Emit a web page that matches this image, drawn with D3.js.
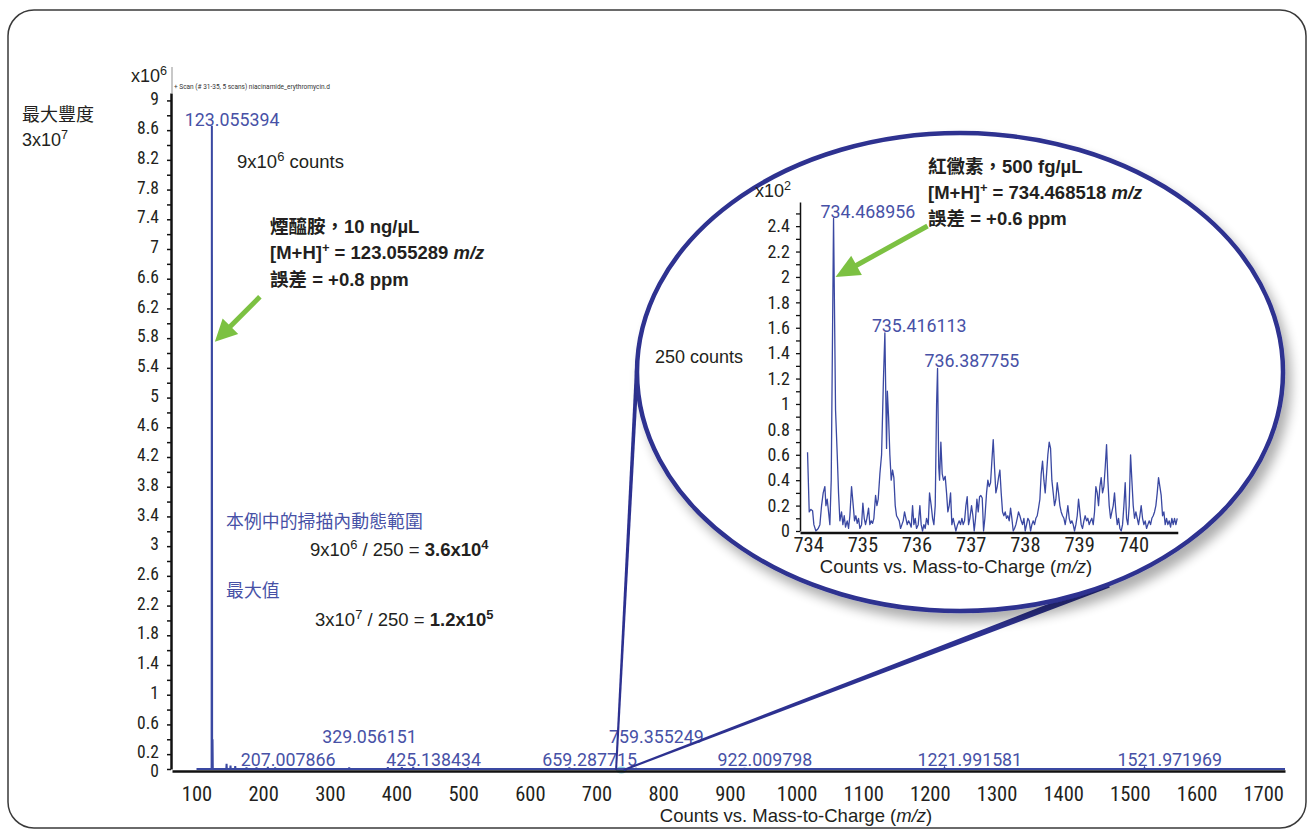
<!DOCTYPE html>
<html>
<head>
<meta charset="utf-8">
<script src="https://cdn.jsdelivr.net/npm/d3@7"></script>
<style>
  html, body { margin: 0; padding: 0; background: #fff; }
  svg { display: block; }
  .narrow { font-family: "Liberation Sans Narrow", "Roboto Condensed", Roboto, "Noto Sans CJK TC", sans-serif; fill: #231f20; }
  .sans { font-family: "Liberation Sans", Arial, "Noto Sans CJK TC", sans-serif; fill: #231f20; }
  .peak-label { font-family: Roboto, "Liberation Sans", sans-serif; fill: #4751a6; }
</style>
</head>
<body>
<svg id="chart" width="1309" height="829"></svg>
<script>
// ---------- Full-scan spectrum (counts x10^6) ----------
const mainPeakMz     = [123.055394, 124.058, 145.1, 151.0, 158.1, 175.0, 190.0, 207.007866, 218.0, 329.056151, 387.0, 408.0, 425.138434, 507.0, 659.287715, 759.355249, 922.009798, 1221.991581, 1521.971969];
const mainPeakCounts = [8.66,       0.40,    0.07,  0.045, 0.04,  0.02,  0.02,  0.03,       0.02,  0.02,       0.025, 0.025, 0.03,       0.02,  0.02,       0.015,      0.015,      0.01,        0.01];
const mainLabeledMz  = [123.055394, 207.007866, 329.056151, 425.138434, 659.287715, 759.355249, 922.009798, 1221.991581, 1521.971969];
const mainXTicks     = [100, 200, 300, 400, 500, 600, 700, 800, 900, 1000, 1100, 1200, 1300, 1400, 1500, 1600, 1700];
const mainYTickLabels = [9, 8.6, 8.2, 7.8, 7.4, 7, 6.6, 6.2, 5.8, 5.4, 5, 4.6, 4.2, 3.8, 3.4, 3, 2.6, 2.2, 1.8, 1.4, 1, 0.6, 0.2, 0];

// ---------- Zoomed region 734-740 m/z (counts x10^2) ----------
const insetPeakMz     = [734.468956, 735.416113, 736.387755];
const insetPeakCounts = [2.46, 1.56, 1.28];
const insetXTicks     = [734, 735, 736, 737, 738, 739, 740];
const insetYTickLabels = [0, 0.2, 0.4, 0.6, 0.8, 1, 1.2, 1.4, 1.6, 1.8, 2, 2.2, 2.4];
const insetNoise = [
  [733.989,0.62],[734.020,0.15],[734.051,0.17],[734.082,0.16],[734.106,0.05],[734.143,0.00],[734.186,0.02],[734.217,0.05],
  [734.248,0.20],[734.278,0.30],[734.309,0.35],[734.328,0.20],[734.352,0.25],[734.377,0.15],[734.401,0.05],[734.426,0.40],
  [734.506,0.95],[734.537,0.60],[734.561,0.30],[734.586,0.08],[734.617,0.15],[734.641,0.05],[734.666,0.12],[734.690,0.03],
  [734.721,0.08],[734.746,0.02],[734.770,0.12],[734.801,0.35],[734.832,0.20],[734.856,0.08],[734.881,0.12],[734.906,0.06],
  [734.930,0.10],[734.955,0.02],[734.986,0.05],[735.010,0.22],[735.035,0.10],[735.059,0.05],[735.084,0.10],[735.115,0.18],
  [735.139,0.05],[735.164,0.08],[735.189,0.06],[735.213,0.10],[735.244,0.28],[735.269,0.20],[735.293,0.25],[735.324,0.45],
  [735.355,0.60],[735.390,1.20],[735.435,1.00],[735.447,0.65],[735.462,1.10],[735.484,0.90],[735.508,0.60],[735.533,0.40],
  [735.558,0.48],[735.582,0.42],[735.607,0.20],[735.631,0.12],[735.656,0.10],[735.681,0.08],[735.705,0.02],[735.730,0.05],
  [735.754,0.08],[735.779,0.15],[735.804,0.10],[735.828,0.05],[735.853,0.08],[735.877,0.06],[735.902,0.03],[735.927,0.20],
  [735.951,0.05],[735.976,0.10],[736.000,0.02],[736.031,0.05],[736.062,0.20],[736.086,0.05],[736.111,0.00],[736.136,0.05],
  [736.160,0.02],[736.185,0.10],[736.216,0.05],[736.240,0.30],[736.271,0.20],[736.296,0.10],[736.320,0.05],[736.345,0.20],
  [736.370,1.00],[736.410,0.50],[736.425,0.40],[736.449,0.70],[736.474,0.45],[736.498,0.40],[736.529,0.43],[736.554,0.30],
  [736.578,0.15],[736.603,0.20],[736.628,0.30],[736.652,0.05],[736.677,0.10],[736.701,0.05],[736.726,0.00],[736.757,0.05],
  [736.788,0.08],[736.812,0.05],[736.837,0.10],[736.861,0.05],[736.886,0.08],[736.911,0.20],[736.935,0.27],[736.960,0.05],
  [736.984,0.10],[737.015,0.20],[737.040,0.12],[737.064,0.00],[737.089,0.10],[737.114,0.25],[737.138,0.15],[737.163,0.27],
  [737.187,0.28],[737.212,0.26],[737.237,0.00],[737.261,0.10],[737.292,0.30],[737.316,0.40],[737.341,0.35],[737.366,0.38],
  [737.390,0.55],[737.415,0.72],[737.439,0.50],[737.464,0.30],[737.489,0.35],[737.513,0.42],[737.538,0.48],[737.562,0.30],
  [737.587,0.15],[737.612,0.12],[737.636,0.15],[737.661,0.10],[737.685,0.12],[737.710,0.08],[737.735,0.18],[737.759,0.10],
  [737.784,0.00],[737.808,0.02],[737.833,0.05],[737.858,0.10],[737.882,0.15],[737.907,0.12],[737.931,0.08],[737.956,0.05],
  [737.981,0.10],[738.005,0.00],[738.030,0.05],[738.054,0.10],[738.079,0.08],[738.104,0.00],[738.128,0.05],[738.153,0.08],
  [738.177,0.05],[738.202,0.10],[738.227,0.12],[738.251,0.18],[738.276,0.25],[738.300,0.45],[738.325,0.55],[738.350,0.40],
  [738.374,0.30],[738.399,0.45],[738.423,0.60],[738.448,0.70],[738.473,0.65],[738.497,0.40],[738.522,0.30],[738.546,0.20],
  [738.571,0.25],[738.596,0.38],[738.620,0.30],[738.645,0.20],[738.669,0.15],[738.694,0.12],[738.719,0.10],[738.743,0.05],
  [738.768,0.12],[738.792,0.20],[738.817,0.10],[738.842,0.06],[738.866,0.08],[738.891,0.05],[738.915,0.00],[738.940,0.05],
  [738.965,0.12],[738.989,0.25],[739.014,0.15],[739.038,0.05],[739.063,0.02],[739.088,0.08],[739.112,0.12],[739.137,0.08],
  [739.161,0.10],[739.186,0.05],[739.211,0.08],[739.235,0.10],[739.260,0.05],[739.284,0.15],[739.309,0.35],[739.334,0.30],
  [739.358,0.20],[739.383,0.35],[739.407,0.42],[739.432,0.30],[739.457,0.35],[739.481,0.50],[739.506,0.68],[739.530,0.40],
  [739.555,0.20],[739.580,0.10],[739.604,0.15],[739.629,0.20],[739.653,0.30],[739.678,0.15],[739.703,0.05],[739.727,0.10],
  [739.752,0.02],[739.776,0.00],[739.801,0.05],[739.826,0.20],[739.850,0.38],[739.875,0.10],[739.899,0.05],[739.924,0.20],
  [739.949,0.60],[739.973,0.40],[739.998,0.20],[740.022,0.10],[740.047,0.15],[740.072,0.10],[740.096,0.05],[740.121,0.12],
  [740.145,0.20],[740.170,0.10],[740.195,0.05],[740.219,0.08],[740.244,0.02],[740.268,0.05],[740.293,0.08],[740.318,0.05],
  [740.342,0.10],[740.367,0.12],[740.391,0.15],[740.416,0.20],[740.441,0.30],[740.465,0.42],[740.490,0.35],[740.514,0.28],
  [740.539,0.12],[740.564,0.15],[740.588,0.05],[740.613,0.10],[740.637,0.05],[740.662,0.08],[740.687,0.03],[740.711,0.10],
  [740.736,0.05],[740.760,0.10],[740.785,0.05],[740.810,0.10]
];

// ---------- layout ----------
const NAVY = "#2d3190", TRACE = "#3a48a2", BLUE_TXT = "#4751a6", GREEN = "#7cc142";
// peak-label rows on the full scan: 0 = lower row, 1 = upper row, "top" = at the apex
const mainLabelRows = ["top", 0, 1, 0, 0, 1, 0, 0, 0];
const LABEL_DX = -27;

const svg = d3.select("#chart");
const defs = svg.append("defs");
const sh = defs.append("filter").attr("id", "lensShadow").attr("x", "-10%").attr("y", "-10%").attr("width", "125%").attr("height", "130%");
sh.append("feGaussianBlur").attr("in", "SourceAlpha").attr("stdDeviation", 6);
sh.append("feOffset").attr("dx", 6).attr("dy", 9).attr("result", "off");
sh.append("feComponentTransfer").append("feFuncA").attr("type", "linear").attr("slope", 0.32);
const mg = sh.append("feMerge"); mg.append("feMergeNode"); mg.append("feMergeNode").attr("in", "SourceGraphic");

// rich text helper: parts are strings or {t, sup, b, i}
function rich(parent, x, y, size, parts, cls) {
  const t = parent.append("text").attr("x", x).attr("y", y).attr("class", cls || "sans").style("font-size", size + "px");
  let shift = 0;
  parts.forEach(p => {
    const o = typeof p === "string" ? {t: p} : p;
    const s = t.append("tspan").text(o.t);
    let d = 0;
    if (o.sup) { d = -size * 0.4 - shift; shift = -size * 0.4; s.style("font-size", (size * 0.7) + "px"); }
    else if (shift) { d = -shift; shift = 0; }
    if (d) s.attr("dy", d);
    if (o.b) s.style("font-weight", "bold");
    if (o.i) s.style("font-style", "italic");
  });
  return t;
}

function arrow(g, tail, tip, w, headL, headW, color) {
  const dx = tip[0] - tail[0], dy = tip[1] - tail[1], len = Math.hypot(dx, dy);
  const ux = dx / len, uy = dy / len, nx = -uy, ny = ux;
  const base = [tip[0] - ux * headL, tip[1] - uy * headL];
  g.append("line").attr("x1", tail[0]).attr("y1", tail[1]).attr("x2", base[0] + ux * 2).attr("y2", base[1] + uy * 2)
    .attr("stroke", color).attr("stroke-width", w);
  g.append("path").attr("fill", color)
    .attr("d", `M${tip[0]},${tip[1]}L${base[0] + nx * headW / 2},${base[1] + ny * headW / 2}L${base[0] - nx * headW / 2},${base[1] - ny * headW / 2}Z`);
}

// frame
svg.append("rect").attr("x", 8).attr("y", 10).attr("width", 1298).attr("height", 818).attr("rx", 26)
  .attr("fill", "none").attr("stroke", "#3a3a3a").attr("stroke-width", 1.5);

// ---------- full-scan chart ----------
const xMain = d3.scaleLinear().domain([63.25, 1732.75]).range([172, 1285]);
const yMain = d3.scaleLinear().domain([0, 9.1]).range([769, 93]);

svg.append("line").attr("x1", 172).attr("x2", 172).attr("y1", 67).attr("y2", 93).attr("stroke", "#c8c8c8").attr("stroke-width", 2);

const yMinor = d3.range(0, 46).map(i => +(i * 0.2).toFixed(1));
const yAx = svg.append("g").attr("transform", "translate(171,0)")
  .call(d3.axisLeft(yMain).tickValues(yMinor).tickSize(4).tickSizeOuter(0).tickPadding(8)
    .tickFormat(v => mainYTickLabels.some(l => Math.abs(l - v) < 1e-6) ? d3.format("")(v) : ""));
yAx.select(".domain").attr("stroke", "#111").attr("stroke-width", 2.5);
yAx.selectAll(".tick line").attr("stroke", "#111").attr("stroke-width", 1.5);
yAx.selectAll(".tick text").attr("class", "narrow").style("font-size", "17.5px").attr("fill", "#231f20")
  .attr("y", d => d === 0 ? 2 : -2);

// zoom marker on the m/z axis
svg.append("ellipse").attr("cx", xMain(737.3)).attr("cy", 770).attr("rx", 5.5).attr("ry", 3.5).attr("fill", "#8fd0dd");

const xAx = svg.append("g").attr("transform", "translate(0,771)")
  .call(d3.axisBottom(xMain).tickValues(mainXTicks).tickSize(0).tickSizeOuter(0).tickPadding(15).tickFormat(d3.format("d")));
xAx.select(".domain").attr("stroke", "#111").attr("stroke-width", 2.5);
xAx.selectAll(".tick text").attr("class", "narrow").style("font-size", "20.5px").attr("fill", "#231f20");

// stick spectrum
const mainPts = [[100, 0]];
mainPeakMz.map((m, i) => [m, mainPeakCounts[i]]).sort((a, b) => a[0] - b[0]).forEach(([m, c]) => {
  mainPts.push([m - 0.4, 0], [m, c], [m + 0.4, 0]);
});
mainPts.push([1732.75, 0]);
svg.append("path").datum(mainPts).attr("fill", "none").attr("stroke", TRACE).attr("stroke-width", 2)
  .attr("d", d3.line().x(d => xMain(d[0])).y(d => yMain(d[1])));

// peak labels
mainLabeledMz.forEach((m, i) => {
  const row = mainLabelRows[i];
  const c = mainPeakCounts[mainPeakMz.indexOf(m)];
  const y = row === "top" ? yMain(c) : yMain(0) - (row === 1 ? 26 : 3);
  svg.append("text").attr("class", "peak-label").style("font-size", "17.8px")
    .attr("x", xMain(m) + LABEL_DX).attr("y", y).text(m.toFixed(6));
});

// axis titles and annotations
rich(svg, 131, 82, 18, ["x10", {t: "6", sup: true}]);
svg.append("text").attr("x", 174).attr("y", 89).style("font-family", "Roboto, sans-serif").style("font-size", "6.5px")
  .attr("fill", "#333").text("+ Scan (# 31-35, 5 scans) niacinamide_erythromycin.d");
rich(svg, 22, 121, 18, ["最大豐度"]);
rich(svg, 22, 146, 18, ["3x10", {t: "7", sup: true}]);
rich(svg, 237, 168, 18.5, ["9x10", {t: "6", sup: true}, " counts"]);

const ann = svg.append("g").style("font-weight", "bold");
rich(ann, 270, 233, 18.5, ["煙醯胺，10 ng/µL"]);
rich(ann, 270, 259, 18.5, ["[M+H]", {t: "+", sup: true}, " = 123.055289 ", {t: "m/z", i: true}]);
rich(ann, 270, 286, 18.5, ["誤差 = +0.8 ppm"]);

rich(svg, 226, 528, 17.9, ["本例中的掃描內動態範圍"]).style("fill", BLUE_TXT);
rich(svg, 310, 556, 18.5, ["9x10", {t: "6", sup: true}, " / 250 = ", {t: "3.6x10", b: true}, {t: "4", sup: true, b: true}]);
rich(svg, 226, 597, 17.9, ["最大值"]).style("fill", BLUE_TXT);
rich(svg, 315, 626, 18.5, ["3x10", {t: "7", sup: true}, " / 250 = ", {t: "1.2x10", b: true}, {t: "5", sup: true, b: true}]);

rich(svg, 796, 822, 18.5, ["Counts vs. Mass-to-Charge (", {t: "m/z", i: true}, ")"]).attr("text-anchor", "middle");

const mainTip = [xMain(mainPeakMz[0]) + 3, yMain(5.75)];
arrow(svg, [mainTip[0] + 45, mainTip[1] - 45], mainTip, 5, 22, 22, GREEN);

// ---------- magnifier lens ----------
const L = {cx: 960, cy: 372, rx: 323, ry: 239};
const xIn = d3.scaleLinear().domain([733.85, 740.82]).range([800, 800 + 6.97 * 54.2]);
const yIn = d3.scaleLinear().domain([0, 2.59]).range([531, 202]);

function tangents(P) {
  const px = (P[0] - L.cx) / L.rx, py = (P[1] - L.cy) / L.ry;
  const d = Math.hypot(px, py), phi = Math.atan2(py, px), a = Math.acos(1 / d);
  return [phi + a, phi - a].map(th => [L.cx + L.rx * Math.cos(th), L.cy + L.ry * Math.sin(th)]);
}
function wedge(a, b, w0, w1) {
  const dx = b[0] - a[0], dy = b[1] - a[1], len = Math.hypot(dx, dy), nx = -dy / len, ny = dx / len;
  svg.append("path").attr("fill", NAVY).attr("d",
    `M${a[0] + nx * w0},${a[1] + ny * w0}L${b[0] + nx * w1},${b[1] + ny * w1}L${b[0] - nx * w1},${b[1] - ny * w1}L${a[0] - nx * w0},${a[1] - ny * w0}Z`);
}
const PL = [xMain(xIn.domain()[0]) - 3, 770], PR = [xMain(xIn.domain()[1]), 770];
wedge(PL, tangents(PL)[0], 1, 2);
wedge(PR, tangents(PR)[1], 1, 3.5);

svg.append("ellipse").attr("cx", L.cx).attr("cy", L.cy).attr("rx", L.rx).attr("ry", L.ry)
  .attr("fill", "#fff").attr("stroke", NAVY).attr("stroke-width", 4.5).attr("filter", "url(#lensShadow)");

// inset axes
const yInMinor = d3.range(0, 26).map(i => +(i * 0.1).toFixed(1));
const yAxIn = svg.append("g").attr("transform", "translate(800,0)")
  .call(d3.axisLeft(yIn).tickValues(yInMinor).tickSize(4).tickSizeOuter(0).tickPadding(6)
    .tickFormat(v => insetYTickLabels.some(l => Math.abs(l - v) < 1e-6) ? d3.format("")(v) : ""));
yAxIn.select(".domain").attr("stroke", "#111").attr("stroke-width", 1.5);
yAxIn.selectAll(".tick line").attr("stroke", "#111").attr("stroke-width", 1.3);
yAxIn.selectAll(".tick text").attr("class", "narrow").style("font-size", "18px").attr("fill", "#231f20");

const xAxIn = svg.append("g").attr("transform", "translate(0,532.5)")
  .call(d3.axisBottom(xIn).tickValues(insetXTicks).tickSize(0).tickSizeOuter(0).tickPadding(5).tickFormat(d3.format("d")));
xAxIn.select(".domain").attr("stroke", "#111").attr("stroke-width", 2.5);
xAxIn.selectAll(".tick text").attr("class", "narrow").style("font-size", "20.5px").attr("fill", "#231f20");

// inset trace
const insetTrace = insetNoise.concat(insetPeakMz.map((m, i) => [m, insetPeakCounts[i]])).sort((a, b) => a[0] - b[0]);
svg.append("path").datum(insetTrace).attr("fill", "none").attr("stroke", TRACE).attr("stroke-width", 1.3)
  .attr("stroke-linejoin", "round").attr("d", d3.line().x(d => xIn(d[0])).y(d => yIn(d[1])));

insetPeakMz.forEach((m, i) => {
  svg.append("text").attr("class", "peak-label").style("font-size", "17.8px")
    .attr("x", xIn(m) - 13).attr("y", yIn(insetPeakCounts[i]) - 1).text(m.toFixed(6));
});

rich(svg, 755, 197, 18, ["x10", {t: "2", sup: true}]);
rich(svg, 655, 363, 18, ["250 counts"]);
rich(svg, 956, 573, 18.5, ["Counts vs. Mass-to-Charge (", {t: "m/z", i: true}, ")"]).attr("text-anchor", "middle");

const ann2 = svg.append("g").style("font-weight", "bold");
rich(ann2, 928, 173, 18.5, ["紅黴素，500 fg/µL"]);
rich(ann2, 928, 199, 18.5, ["[M+H]", {t: "+", sup: true}, " = 734.468518 ", {t: "m/z", i: true}]);
rich(ann2, 928, 225, 18.5, ["誤差 = +0.6 ppm"]);

const inTip = [xIn(insetPeakMz[0]) + 2, yIn(2.0)];
arrow(svg, [inTip[0] + 92, inTip[1] - 51], inTip, 5, 24, 22, GREEN);
</script>
</body>
</html>
